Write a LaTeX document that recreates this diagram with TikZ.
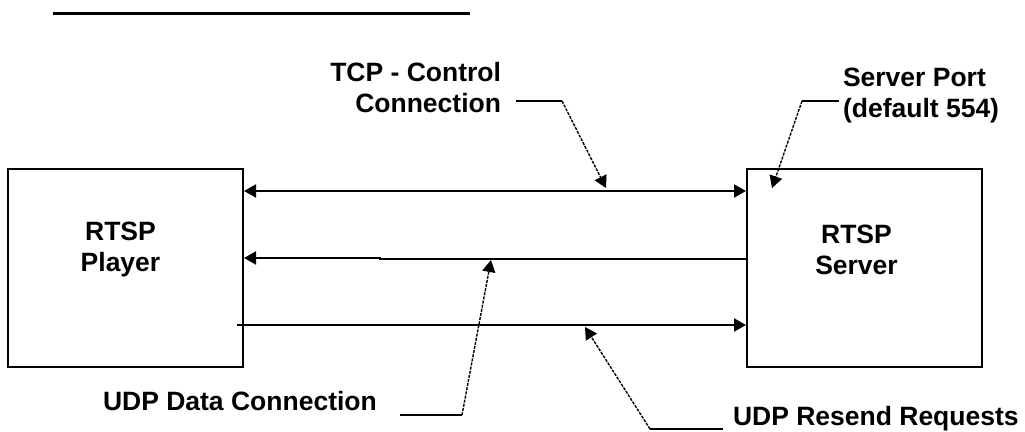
\documentclass[tikz,border=0pt]{standalone}
\usepackage{fontspec}
\setmainfont{Liberation Sans}
\usetikzlibrary{arrows,arrows.meta,positioning}

\begin{document}
\begin{tikzpicture}[x=1pt,y=1pt,>={Triangle[length=12pt,width=13pt]},
            line width=2pt,node distance=739pt,
            font=\fontsize{26.5}{31}\selectfont\bfseries]
        \tikzstyle{box}=[draw=black,rectangle,minimum width=235pt,minimum height=198pt,inner sep=0pt]
        \tikzstyle{note}=[inner sep=0pt]
        \tikzstyle{leader}=[line width=1.4pt]
        \tikzstyle{dots}=[leader,dash pattern=on 3pt off 1.2pt]

        \useasboundingbox (0,0) rectangle (1025,431);
        \draw[line width=3pt] (53,417) -- (470,417);

        \node[box,label={[shift={(-5,19)},align=center]center:RTSP\\Player}] (player) at (125.5,163) {};
        \node[box,label={[shift={(-8,18.5)},align=center]center:RTSP\\Server}] (server) [right of=player] {};

        \node[note,align=right,anchor=east] (tcp) at (502,343) {TCP - Control\\Connection};
        \node[note,align=left,anchor=west] (port) at (842,335) {Server Port\\(default 554)};
        \node[note,anchor=base west] (data) at (102,21) {UDP Data Connection};
        \node[note,anchor=base west] (resend) at (732,6) {UDP Resend Requests};

        % the three links
        \coordinate (ctl) at (0,240);
        \coordinate (dat) at (0,172);
        \coordinate (dat2) at (0,173);
        \coordinate (rsd) at (0,106);
        \coordinate (step1) at (380,172);
        \coordinate (step2) at (380,173);
        \coordinate (rsd0) at (237,106);
        \draw[<->] (player.east |- ctl) -- (server.west |- ctl);
        \draw[->] (server.west |- dat) -- (step1) -- (step2) -- (player.east |- dat2);
        \draw[->] (rsd0) -- (server.west |- rsd);

        % leaders
        \coordinate (tcpa) at (516,330);
        \coordinate (tcpb) at (562,330);
        \coordinate (tcpt) at (606,243);
        \coordinate (porta) at (839,330);
        \coordinate (portb) at (802,330);
        \coordinate (portt) at (772,243);
        \coordinate (dataa) at (400,16);
        \coordinate (datab) at (462,16);
        \coordinate (datat) at (491,171);
        \coordinate (rsda) at (723,2);
        \coordinate (rsdb) at (650,2);
        \coordinate (rsdt) at (585,104);

        \draw[leader] (tcpa) -- (tcpb);
        \draw[dots,->] (tcpb) -- (tcpt);
        \draw[leader] (porta) -- (portb);
        \draw[dots,->] (portb) -- (portt);
        \draw[leader] (dataa) -- (datab);
        \draw[dots,->] (datab) -- (datat);
        \draw[leader] (rsda) -- (rsdb);
        \draw[dots,->] (rsdb) -- (rsdt);
    \end{tikzpicture}
\end{document}
